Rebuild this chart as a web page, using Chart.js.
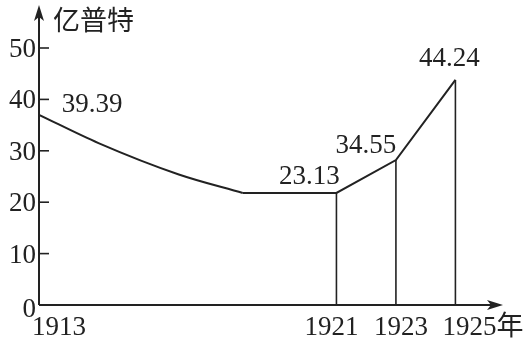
<!DOCTYPE html>
<html>
<head>
<meta charset="utf-8">
<script src="https://cdn.jsdelivr.net/npm/chart.js@4"></script>
<style>
  html, body { margin: 0; padding: 0; background: #fff; }
  #wrap { width: 530px; height: 341px; }
</style>
</head>
<body>
<div id="wrap"><canvas id="chart"></canvas></div>
<script>
// x positions are schematic (not to scale): 1913 -> 0, 1921 -> 10, 1923 -> 12, 1925 -> 14
// falling part from 1913 (smooth), then flat and rising part up to 1925 (straight)
const fallX = [0, 2, 4.7, 6.85]
const fallY = [37, 31.5, 25.4, 21.8]
const restX = [6.85, 10, 12, 14]
const restY = [21.8, 21.8, 28.2, 43.8]
const years = ['1913', '1921', '1923', '1925年']
const yearX = [0, 10, 12, 14]
const valueLabels = ['39.39', '23.13', '34.55', '44.24']
const yTicks = [0, 10, 20, 30, 40, 50]

const serif = '27px "Liberation Serif", "Noto Sans CJK SC", serif'

const axesPlugin = {
  id: 'axesPlugin',
  afterDatasetsDraw(chart) {
    const ctx = chart.ctx
    const area = chart.chartArea
    const xs = chart.scales.x
    const ys = chart.scales.y
    const fallPts = chart.getDatasetMeta(0).data
    const restPts = chart.getDatasetMeta(1).data
    ctx.save()
    ctx.strokeStyle = '#222'
    ctx.fillStyle = '#222'
    ctx.lineWidth = 1.6

    // drop lines from 1921, 1923, 1925
    restPts.slice(1).forEach(p => {
      ctx.beginPath()
      ctx.moveTo(p.x, p.y)
      ctx.lineTo(p.x, ys.getPixelForValue(0))
      ctx.stroke()
    })

    // axes
    const x0 = xs.getPixelForValue(0)
    const y0 = ys.getPixelForValue(0)
    ctx.lineWidth = 2
    ctx.beginPath()
    ctx.moveTo(x0, y0)
    ctx.lineTo(x0, 10)
    ctx.moveTo(x0, y0)
    ctx.lineTo(area.right - 8, y0)
    ctx.stroke()
    // arrows
    ctx.beginPath()
    ctx.moveTo(x0, 5)
    ctx.lineTo(x0 - 5, 21)
    ctx.lineTo(x0, 17)
    ctx.lineTo(x0 + 5, 21)
    ctx.closePath()
    ctx.fill()
    ctx.beginPath()
    ctx.moveTo(area.right, y0)
    ctx.lineTo(area.right - 16, y0 - 5)
    ctx.lineTo(area.right - 12, y0)
    ctx.lineTo(area.right - 16, y0 + 5)
    ctx.closePath()
    ctx.fill()

    // inner y ticks
    ctx.lineWidth = 1.6
    yTicks.forEach(v => {
      if (v === 0) return
      const py = ys.getPixelForValue(v)
      ctx.beginPath()
      ctx.moveTo(x0, py)
      ctx.lineTo(x0 + 10, py)
      ctx.stroke()
    })

    ctx.font = serif
    ctx.textBaseline = 'middle'
    // y labels
    ctx.textAlign = 'right'
    yTicks.forEach(v => {
      const py = ys.getPixelForValue(v) + (v === 0 ? 5 : 2)
      ctx.fillText(String(v), x0 - 3, py)
    })
    // year labels
    ctx.textAlign = 'left'
    const yearShift = [-7, -32, -22, -13]
    years.forEach((t, i) => {
      ctx.fillText(t, xs.getPixelForValue(yearX[i]) + yearShift[i], 328)
    })
    // value labels
    ctx.textAlign = 'center'
    const labelPts = [fallPts[0], restPts[1], restPts[2], restPts[3]]
    const valueShift = [[53, -10], [-27, -16], [-30, -14], [-6, -21]]
    valueLabels.forEach((t, i) => {
      const p = labelPts[i]
      ctx.fillText(t, p.x + valueShift[i][0], p.y + valueShift[i][1])
    })
    // unit
    ctx.font = '27px "Noto Sans CJK SC", sans-serif'
    ctx.textAlign = 'left'
    ctx.fillText('亿普特', x0 + 14, 20)
    ctx.restore()
  }
}

new Chart(document.getElementById('chart'), {
  type: 'line',
  data: {
    datasets: [
      {
        data: fallX.map((x, i) => ({ x: x, y: fallY[i] })),
        borderColor: '#222',
        borderWidth: 2,
        pointRadius: 0,
        cubicInterpolationMode: 'monotone',
        fill: false
      },
      {
        data: restX.map((x, i) => ({ x: x, y: restY[i] })),
        borderColor: '#222',
        borderWidth: 2,
        pointRadius: 0,
        tension: 0,
        fill: false
      }
    ]
  },
  options: {
    responsive: true,
    maintainAspectRatio: false,
    animation: false,
    events: [],
    layout: { padding: { top: 48, right: 27, left: 0, bottom: 0 } },
    plugins: { legend: { display: false }, tooltip: { enabled: false } },
    scales: {
      x: {
        type: 'linear',
        min: 0,
        max: 15.6,
        grid: { display: false },
        border: { display: false },
        ticks: { display: false },
        afterFit(scale) { scale.height = 36 }
      },
      y: {
        min: 0,
        max: 50,
        grid: { display: false },
        border: { display: false },
        ticks: { display: false },
        afterFit(scale) { scale.width = 39 }
      }
    }
  },
  plugins: [axesPlugin]
})
</script>
</body>
</html>
